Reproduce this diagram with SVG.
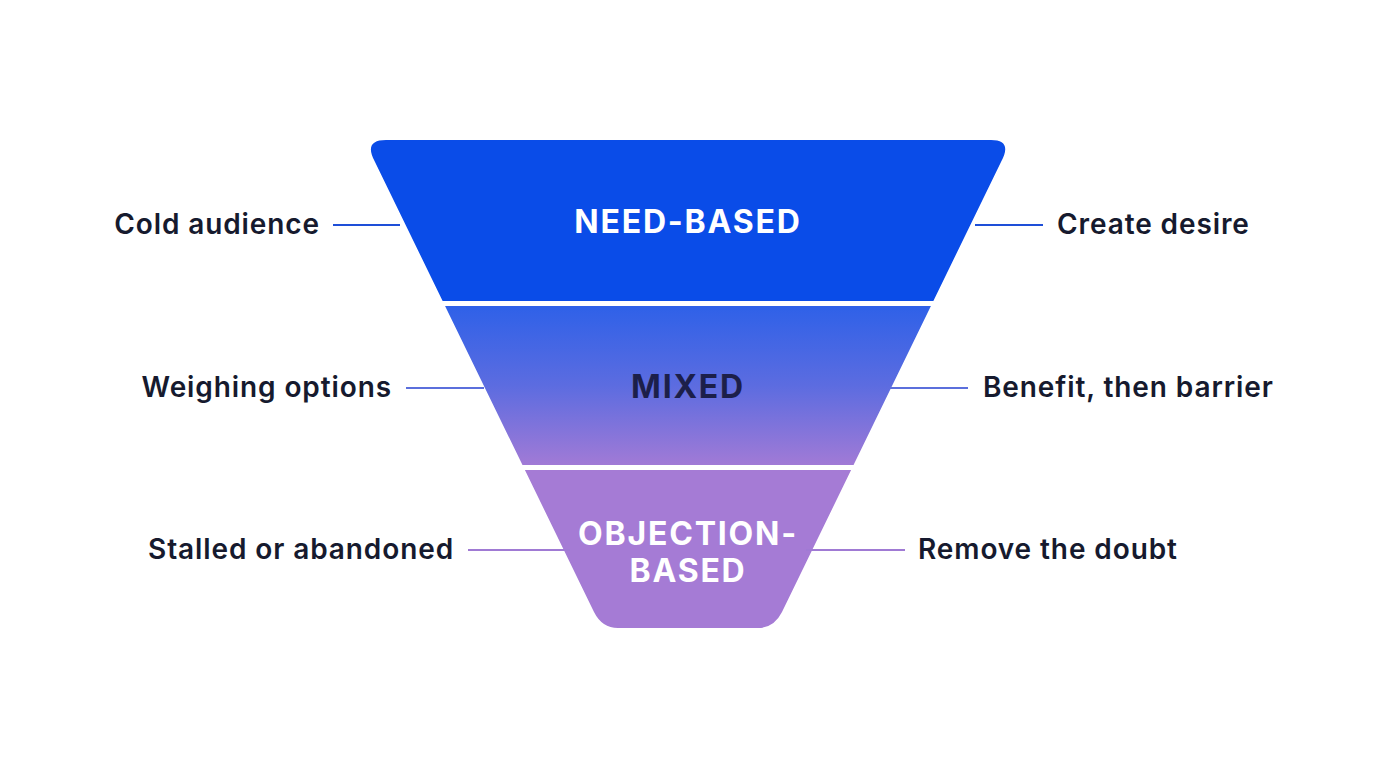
<svg xmlns="http://www.w3.org/2000/svg" width="1376" height="768" viewBox="0 0 1376 768">
<style>
.lbl{font-family:"Inter","Liberation Sans",sans-serif;font-weight:600;font-size:28px;letter-spacing:0.9px;fill:#161a2e}
.nl{font-family:"Inter","Liberation Sans",sans-serif;font-weight:700;font-size:32px;letter-spacing:1.8px;text-anchor:middle}
.c{stroke-width:2;fill:none}
</style>
<defs>
<linearGradient id="gm" x1="0" y1="307" x2="0" y2="464" gradientUnits="userSpaceOnUse">
<stop offset="0" stop-color="#2f61e8"/><stop offset="0.5" stop-color="#5c6ce0"/><stop offset="1" stop-color="#a07ad6"/>
</linearGradient>
<clipPath id="fun"><path d="M386,140 L991,140 Q1013,140 1001,162 L782,612 Q774,628 758,628 L618,628 Q602,628 594,612 L375,162 Q363,140 386,140 Z"/></clipPath>
</defs>
<rect width="1376" height="768" fill="#fff"/>
<g clip-path="url(#fun)">
<g id="need"><rect x="300" y="130" width="800" height="171" fill="#0a4ce8"/></g>
<g id="mixed"><rect x="300" y="306" width="800" height="159" fill="url(#gm)"/></g>
<g id="objection"><rect x="300" y="470" width="800" height="170" fill="#a57bd5"/></g>
</g>
<text class="nl" x="688" y="233" fill="#fff">NEED-BASED</text>
<text class="nl" x="688" y="398" fill="#1c1f4a">MIXED</text>
<text class="nl" x="688" y="545" fill="#fff" font-size="30">OBJECTION-</text>
<text class="nl" x="688" y="582" fill="#fff" font-size="30">BASED</text>
<g id="connectors">
<line class="c" x1="333" y1="225" x2="400" y2="225" stroke="#1e4fd8"/>
<line class="c" x1="975" y1="225" x2="1043" y2="225" stroke="#1e4fd8"/>
<line class="c" x1="406" y1="388" x2="484" y2="388" stroke="#5b6fdc"/>
<line class="c" x1="890" y1="388" x2="968" y2="388" stroke="#5b6fdc"/>
<line class="c" x1="468" y1="550" x2="570" y2="550" stroke="#a07ad4"/>
<line class="c" x1="806" y1="550" x2="905" y2="550" stroke="#a07ad4"/>
</g>
<text class="lbl" x="320" y="234" text-anchor="end">Cold audience</text>
<text class="lbl" x="392" y="397" text-anchor="end">Weighing options</text>
<text class="lbl" x="454" y="559" text-anchor="end">Stalled or abandoned</text>
<text class="lbl" x="1057" y="234">Create desire</text>
<text class="lbl" x="983" y="397">Benefit, then barrier</text>
<text class="lbl" x="918" y="559">Remove the doubt</text>
</svg>
